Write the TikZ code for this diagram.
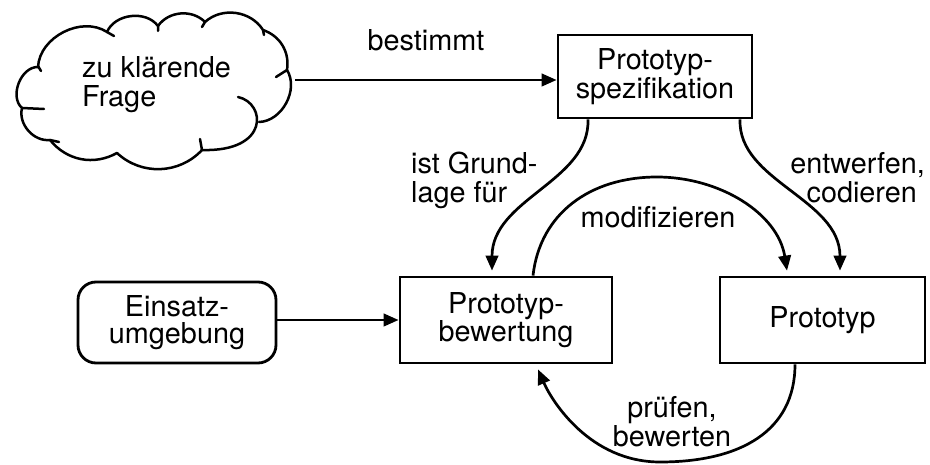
\documentclass[tikz,border=0pt]{standalone}
\usepackage{fontspec}
\setmainfont{TeX Gyre Heros}
\usetikzlibrary{arrows.meta}
\begin{document}
\begin{tikzpicture}[x=1pt,y=-1pt,
  every node/.style={inner sep=0pt, font=\fontsize{28.8}{27}\selectfont},
  box/.style={draw, line width=2.8pt, align=center},
  lbl/.style={font=\fontsize{28.8}{29}\selectfont},
  conn/.style={line width=2.7pt, -{Triangle[length=15pt,width=12.5pt]}},
  cloudline/.style={line width=2.5pt, line join=round, line cap=round}]
\useasboundingbox (0,0) rectangle (930,465);

% boxes
\node[box, minimum width=194pt, minimum height=83pt] (spec) at (655,76.5) {Prototyp-\\spezifikation};
\node[box, minimum width=212pt, minimum height=86pt] (bew) at (506,320) {Prototyp-\\bewertung};
\node[box, minimum width=205pt, minimum height=86pt] (proto) at (822.5,320) {Prototyp};
\node[box, rounded corners=18pt, minimum width=198pt, minimum height=81pt] (einsatz) at (177,322.5) {Einsatz-\\umgebung};

% cloud
\draw[cloudline] (38,67) to[bend left=60] (107,32) to[bend left=60] (158,26)
  to[bend left=50] (205,22) to[bend left=50] (263,30) to[bend left=40] (287,70)
  to[bend left=60] (259,122);
\draw[cloudline] (238,97) .. controls (266,103) and (270,152) .. (202,150)
  to[bend left=45] (117,153) to[bend left=40] (50,140) to[bend left=55] (22,108)
  to[bend left=70] (38,67);
\draw[cloudline] (38,66) -- (41,71) (107,32) -- (114,36) (158,26) -- (158,31)
  (205,22) -- (202,27) (263,30) -- (264,35) (287,70) -- (276,77)
  (202,150) -- (200,139) (50,140) -- (59,142) (22,108) -- (44,109);
\node[lbl, anchor=north west, align=left] (frage) at (82,56) {zu klärende\\Frage};
\coordinate (cloudR) at (295,80);

% labels
\node[lbl, anchor=north] (bestimmt) at (426,29) {bestimmt};
\node[lbl, anchor=north west, align=left] (grund) at (411,152) {ist Grund-\\lage für};
\node[lbl, anchor=north east, align=right] (entw) at (925,152) {entwerfen,\\codieren\hspace*{8pt}};
\node[lbl, anchor=north] (modif) at (658,206) {modifizieren};
\node[lbl, anchor=north, align=center] (pruef) at (672,396) {prüfen,\\bewerten};

% connectors
\draw[conn] (cloudR) -- (cloudR -| spec.west);
\draw[conn] (einsatz.east |- bew.west) -- (bew.west);
\draw[conn] ([xshift=-67pt]spec.south) .. controls +(2,62) and +(0,-72) .. ([xshift=-14pt,yshift=5pt]bew.north);
\draw[conn] ([xshift=85pt]spec.south) .. controls +(-2,62) and +(0,-72) .. ([xshift=17.5pt,yshift=5pt]proto.north);
\coordinate (modtop) at (657,177);
\draw[conn] ([xshift=27pt]bew.north) .. controls +(7,-62) and +(-67,0) .. (modtop)
  .. controls +(63,0) and +(-9,-57) .. ([xshift=-35.5pt,yshift=5pt]proto.north);
\coordinate (prbot) at (660,462);
\draw[conn] ([xshift=-27.5pt]proto.south) .. controls +(0,67) and +(80,0) .. (prbot)
  .. controls +(-70,0) and +(14,32) .. ([xshift=32pt,yshift=-5pt]bew.south);
\end{tikzpicture}
\end{document}
